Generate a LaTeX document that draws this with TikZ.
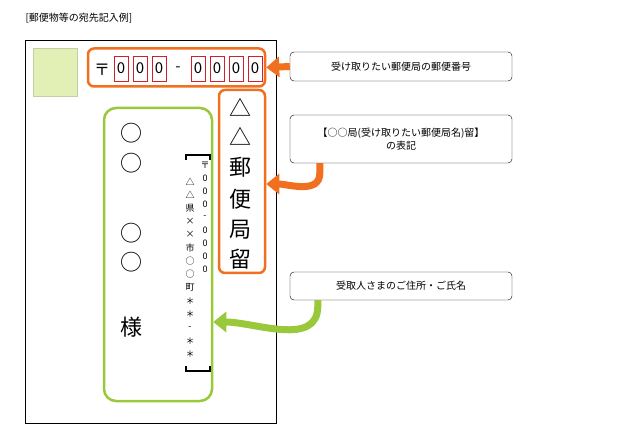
\documentclass[tikz,border=0pt]{standalone}
\usepackage{fontspec}
\setmainfont{Noto Sans CJK JP}
\usetikzlibrary{arrows.meta}
\definecolor{org}{HTML}{F07020}
\definecolor{grn}{HTML}{99C93A}
\definecolor{lgrn}{HTML}{E2EFB5}
\definecolor{rd}{HTML}{D02030}
\begin{document}
\begin{tikzpicture}[x=1pt,y=-1pt,
  obox/.style={draw=org,line width=2.5pt,rounded corners=6pt},
  gbox/.style={draw=grn,line width=2.5pt,rounded corners=12pt},
  callout/.style={draw=black,rounded corners=4pt,minimum width=222pt,align=center,font=\fontsize{10}{13}\selectfont},
  digit/.style={draw=rd,minimum width=14pt,minimum height=25pt,inner sep=0pt,font=\fontsize{15}{15}\selectfont},
  big/.style={font=\fontsize{22}{22}\selectfont,inner sep=0pt},
  small/.style={font=\fontsize{9}{9}\selectfont,inner sep=0pt},
  oarr/.style={draw=org,line width=7pt,-{Triangle[length=13pt,width=20pt]}},
  garr/.style={draw=grn,line width=7pt,-{Triangle[length=13pt,width=20pt]}}]
\useasboundingbox (0,0) rectangle (622,441);
\node[anchor=west,font=\fontsize{10}{10}\selectfont] (title) at (22,18) {[郵便物等の宛先記入例]};
\draw (25,40) rectangle (276,423);
\node[draw=lgrn!70!gray,fill=lgrn,minimum width=44pt,minimum height=48pt,inner sep=0pt] (stamp) at (55,72) {};
\node[obox,minimum width=177pt,minimum height=38pt] (zipbox) at (176.5,67.5) {};
\node[font=\fontsize{16}{16}\selectfont,inner sep=0pt] (mark) at (102,70) {〒};
\foreach \x [count=\i] in {121,140,159,198,217,236,255}{\node[digit] (d\i) at (\x,68.5) {0};}
\node[font=\fontsize{15}{15}\selectfont,inner sep=0pt] (dash) at (178,69) {-};
\node[obox,minimum width=46pt,minimum height=183pt] (kyoku) at (242,181.5) {};
\foreach \y/\t [count=\i] in {107/△,136/△,167/郵,199/便,230/局,259/留}{\node[big] (k\i) at (240,\y) {\t};}
\node[gbox,minimum width=108pt,minimum height=293pt] (namebox) at (158,254.5) {};
\foreach \y/\t [count=\i] in {133/○,163/○,233/○,262/○,327/様}{\node[big] (n\i) at (131,\y) {\t};}
\foreach \t [count=\i] in {〒,0,0,0,-,0,0,0,0}{\node[small] (a\i) at (205,{152+\i*13}) {\t};}
\foreach \t [count=\i] in {△,△,県,×,×,市,○,○,町,＊,＊,-,＊,＊}{\node[small] (b\i) at (190,{168+\i*13.3}) {\t};}
\draw[line width=2.5pt] (186,160) -- (186,155) -- (210,155) -- (210,160);
\draw[line width=2.5pt] (186,366) -- (186,371) -- (210,371) -- (210,366);
\node[callout,minimum height=29pt] (c1) at (401,66.5) {受け取りたい郵便局の郵便番号};
\node[callout,minimum height=48pt] (c2) at (401,139) {【○○局(受け取りたい郵便局名)留】\\の表記};
\node[callout,minimum height=28pt] (c3) at (401,286) {受取人さまのご住所・ご氏名};
\draw[oarr] (c1.west) -- (zipbox.east);
\draw[oarr] (c2.south west)++(30,0) coordinate (s2) -- ++(0,10) to[out=270,in=0] (kyoku.east|-0,184);
\draw[garr] (c3.south west)++(28,0) coordinate (s3) -- ++(0,6) to[out=270,in=0] (namebox.east|-0,322);
\end{tikzpicture}
\end{document}
